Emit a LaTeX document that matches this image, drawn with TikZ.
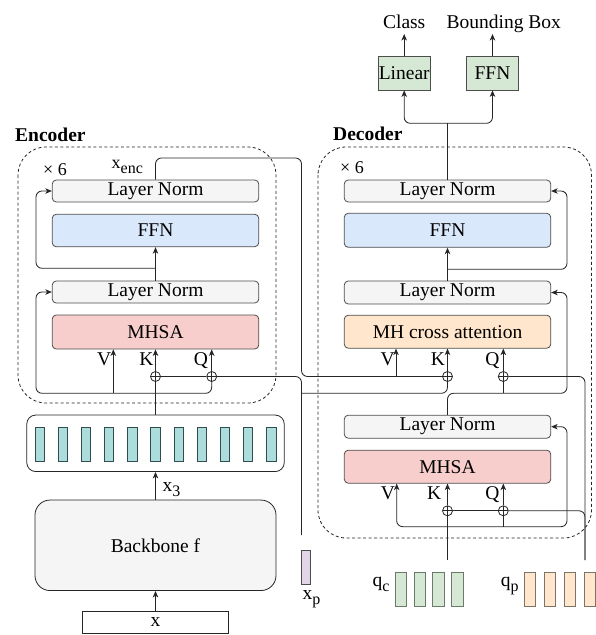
\documentclass[tikz,border=0pt]{standalone}
\usepackage{fontspec}
\setmainfont{Liberation Serif}
\usetikzlibrary{arrows.meta}
\definecolor{lnfill}{HTML}{F5F5F5}
\definecolor{ffnfill}{HTML}{DAE8FC}
\definecolor{mhsafill}{HTML}{F8CECC}
\definecolor{cafill}{HTML}{FFE6CC}
\definecolor{grfill}{HTML}{D5E8D4}
\definecolor{tealfill}{HTML}{ADDCDC}
\definecolor{tealdraw}{HTML}{2F4F4F}
\definecolor{xpfill}{HTML}{E1D5E7}
\definecolor{strokegray}{HTML}{4D4D4D}
\definecolor{qcdraw}{HTML}{6B7B6B}
\definecolor{qpdraw}{HTML}{7D7366}
\newcommand\subtxt[1]{\raisebox{-0.28em}{\fontsize{16}{16}\selectfont #1}}
\begin{document}
\begin{tikzpicture}[x=1pt,y=-1pt,
  every node/.style={font=\fontsize{19.5}{22}\selectfont, inner sep=0pt},
  blk/.style={draw=strokegray, line width=0.8pt, rounded corners=4pt, minimum width=206.5pt, minimum height=22pt},
  lnbox/.style={blk, fill=lnfill},
  ffnbox/.style={blk, fill=ffnfill, minimum height=33pt},
  mhsabox/.style={blk, fill=mhsafill, minimum height=33.5pt},
  cabox/.style={blk, fill=cafill, minimum height=33pt},
  headbox/.style={draw=strokegray, line width=0.8pt, fill=grfill, minimum width=52pt, minimum height=33.3pt},
  tok/.style={draw=tealdraw, line width=0.8pt, fill=tealfill, minimum width=9.3pt, minimum height=34pt},
  qctok/.style={draw=qcdraw, line width=0.8pt, fill=grfill, minimum width=11.3pt, minimum height=34.4pt},
  qptok/.style={draw=qpdraw, line width=0.8pt, fill=cafill, minimum width=11pt, minimum height=34.4pt},
  oplus/.style={circle, draw=black!85, line width=0.8pt, fill=white, minimum size=10pt,
    path picture={\draw[black!85, line width=0.8pt] (path picture bounding box.north) -- (path picture bounding box.south)
      (path picture bounding box.west) -- (path picture bounding box.east);}},
  conn/.style={draw=black!85, line width=0.85pt},
  arr/.style={-{Stealth[length=6.5pt,width=5.5pt,inset=1.8pt]}},
  rc/.style={rounded corners=6pt},
  dashedbox/.style={draw=black!85, line width=0.8pt, dash pattern=on 3pt off 2.5pt, rounded corners=28pt},
  lbl/.style={anchor=base}
]
\useasboundingbox (0,0) rectangle (596,635);

% containers
\draw[dashedbox] (18,147) rectangle (276,403);
\draw[dashedbox] (318,147) rectangle (591.5,538);
\node[anchor=base west, font=\fontsize{19.5}{22}\selectfont\bfseries] (enclbl) at (15,141) {Encoder};
\node[anchor=base west, font=\fontsize{19.5}{22}\selectfont\bfseries] (declbl) at (333,140) {Decoder};
\node[anchor=base west, font=\fontsize{18}{18}\selectfont] (encx6) at (43,175) {× 6};
\node[anchor=base west, font=\fontsize{18}{18}\selectfont] (decx6) at (340,173) {× 6};

% encoder blocks
\node[lnbox] (eLN1) at (155.5,191) {Layer Norm};
\node[ffnbox, minimum height=32.5pt] (eFFN) at (155.5,230.5) {FFN};
\node[lnbox] (eLN2) at (155.5,292) {Layer Norm};
\node[mhsabox, minimum height=34pt] (eMHSA) at (155.5,332) {MHSA};
\node[oplus] (eoK) at (155.5,376.5) {};
\node[oplus] (eoQ) at (211.7,376.5) {};
\node[lbl] (eVl) at (104.2,365) {V};
\node[lbl] (eKl) at (146.3,365) {K};
\node[lbl] (eQl) at (200.8,365) {Q};
\node[anchor=base west, font=\fontsize{18}{18}\selectfont] (xenc) at (111.5,168) {x\subtxt{enc}};

% tokens, backbone, input
\node[draw=black!85, line width=0.8pt, rounded corners=9pt, minimum width=257.5pt, minimum height=56.5pt, fill=white] (feat) at (155.5,443.3) {};
\foreach \i in {0,...,10} \node[tok] (tok\i) at ({39.65+23.17*\i},444) {};
\node[draw=black!85, line width=0.8pt, fill=lnfill, rounded corners=15pt, minimum width=241pt, minimum height=90.5pt] (bb) at (155.5,545.3) {Backbone f};
\node[draw=black!85, line width=0.8pt, minimum width=146pt, minimum height=21.5pt] (xin) at (155.5,622.5) {x};
\node[anchor=base west] (x3) at (162.5,491) {x\subtxt{3}};
\node[draw=strokegray, line width=0.8pt, fill=xpfill, minimum width=8.5pt, minimum height=33.5pt] (xp) at (306,567.5) {};
\node[anchor=base west] (xplbl) at (302.5,599) {x\subtxt{p}};

% decoder blocks
\node[lnbox] (dLN1) at (447.5,191) {Layer Norm};
\node[ffnbox, minimum height=34pt] (dFFN) at (447.5,230.3) {FFN};
\node[lnbox, minimum height=23pt] (dLN2) at (447.5,292.5) {Layer Norm};
\node[cabox] (dCA) at (447.5,331.7) {MH cross attention};
\node[oplus] (doK) at (447.5,376.5) {};
\node[oplus] (doQ) at (503.3,376.5) {};
\node[lbl] (dVl) at (387.7,365) {V};
\node[lbl] (dKl) at (438,365) {K};
\node[lbl] (dQl) at (492.5,365) {Q};
\node[lnbox, minimum height=23pt] (dLN3) at (447.5,426.7) {Layer Norm};
\node[mhsabox, minimum height=33pt] (dMHSA) at (447.5,466.7) {MHSA};
\node[oplus] (dsK) at (447.5,510.8) {};
\node[oplus] (dsQ) at (503.3,510.8) {};
\node[lbl] (sVl) at (387.8,499.5) {V};
\node[lbl] (sKl) at (434.2,499.5) {K};
\node[lbl] (sQl) at (492.5,499.5) {Q};

% heads
\node[headbox] (lin) at (404.2,73.3) {Linear};
\node[headbox, minimum width=51.6pt] (ffnT) at (492.5,73.3) {FFN};
\node[lbl] (cls) at (404.2,28.3) {Class};
\node[lbl] (bbx) at (503.8,28.3) {Bounding Box};

% queries
\foreach \i in {0,...,3} \node[qctok] (qc\i) at ({400.9+18.8*\i},589.5) {};
\foreach \i in {0,...,3} \node[qptok] (qp\i) at ({530+20.1*\i},589.5) {};
\node[anchor=base west] (qclbl) at (372.5,586) {q\subtxt{c}};
\node[anchor=base west] (qplbl) at (500.7,586) {q\subtxt{p}};

% coordinates
\coordinate (eL) at (36,393.3);
\coordinate (eV) at (113.3,393.3);
\coordinate (eR) at (36,268.3);
\coordinate (eRj) at (155.5,268.3);
\coordinate (xencTop) at (301.5,158);
\coordinate (xpS) at (301.5,535);
\coordinate (xpB) at (301.5,393.3);
\coordinate (dVc) at (396,376.5);
\coordinate (dJ) at (503.3,393.3);
\coordinate (dR2) at (567,393.3);
\coordinate (dRj) at (447.5,269.3);
\coordinate (split) at (447.5,123.3);
\coordinate (tipY) at (0,34);
\coordinate (dsJ) at (447.5,526.7);
\coordinate (dsVb) at (396.7,526.7);
\coordinate (dR3) at (567,526.7);
\coordinate (qcS) at (447.5,560);
\coordinate (qpS) at (585,560);

% encoder connectors
\draw[conn,arr] (xin.north) -- (bb.south);
\draw[conn,arr] (bb.north) -- (feat.south);
\draw[conn] (feat.north) -- (eoK.south);
\draw[conn,arr] (eoK.north) -- (eMHSA.south);
\draw[conn,arr] (eoQ.north) -- (eoQ.north |- eMHSA.south);
\draw[conn,arr] (eV) -- (eV |- eMHSA.south);
\draw[conn,arr,rc] (eoQ.south) |- (eL) |- (eLN2.west);
\draw[conn,arr] (eLN2.north) -- (eFFN.south);
\draw[conn,arr,rc] (eRj) -- (eR) |- (eLN1.west);
\draw[conn,rc] (eLN1.north) |- (xencTop) |- (doK.west);
\draw[conn,rc] (xpS) |- (eoQ.east);
\draw[conn] (eoQ.west) -- (eoK.east);
\draw[conn,rc] (xpB) -| (doK.south);

% decoder cross-attention connectors
\draw[conn,arr] (dVc) -- (dVc |- dCA.south);
\draw[conn,arr] (doK.north) -- (dCA.south);
\draw[conn,arr] (doQ.north) -- (doQ.north |- dCA.south);
\draw[conn] (doQ.south) -- (dJ);
\draw[conn,arr,rc] (dLN3.north) |- (dR2) |- (dLN2.east);
\draw[conn,arr] (dLN2.north) -- (dFFN.south);
\draw[conn,arr,rc] (dRj) -| (dLN1.east -| dR2) -- (dLN1.east);
\draw[conn] (dLN1.north) -- (split);
\draw[conn,arr,rc] (split) -| (lin.south);
\draw[conn,arr,rc] (split) -| (ffnT.south);
\draw[conn,arr] (lin.north) -- (lin.north |- tipY);
\draw[conn,arr] (ffnT.north) -- (ffnT.north |- tipY);

% decoder self-attention connectors
\draw[conn] (qcS) -- (dsK.south);
\draw[conn,arr] (dsK.north) -- (dMHSA.south);
\draw[conn] (dsQ.south |- dsJ) -- (dsQ.south);
\draw[conn,arr] (dsQ.north) -- (dsQ.north |- dMHSA.south);
\draw[conn,arr,rc] (dsJ) -- (dsVb) -- (dsVb |- dMHSA.south);
\draw[conn,arr,rc] (dsJ) -- (dR3) |- (dLN3.east);
\draw[conn,rc] (qpS) |- (doQ.east);
\draw[conn,rc] (dsQ.east) -| (qpS);
\draw[conn] (dsQ.west) -- (dsK.east);
\end{tikzpicture}
\end{document}
